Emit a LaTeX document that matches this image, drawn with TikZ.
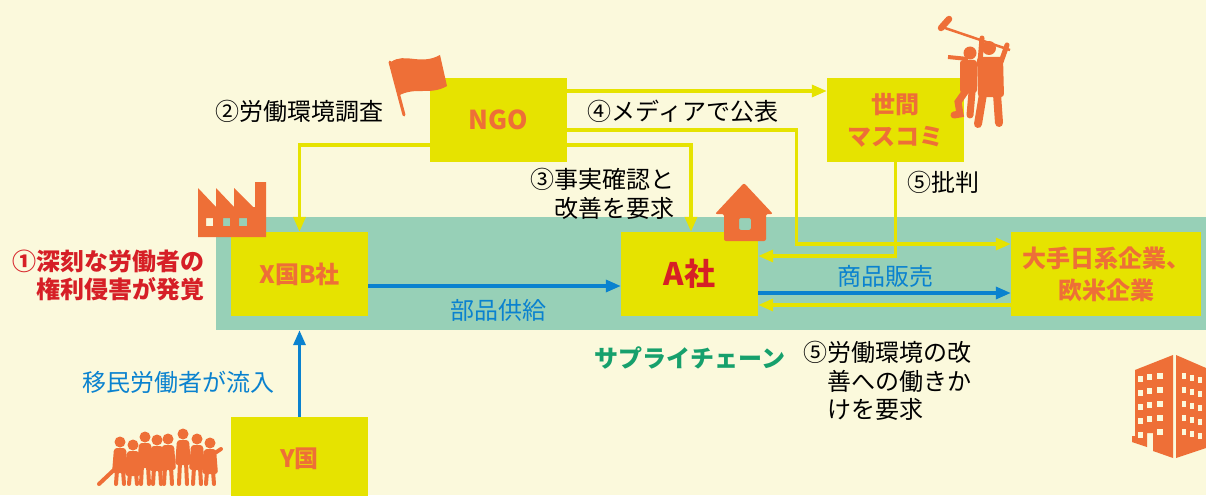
\documentclass[tikz,border=0pt]{standalone}
\usepackage{fontspec}
\setmainfont{Noto Sans CJK JP}
\usepackage{tikz}
\usepackage{xcolor}
\usetikzlibrary{arrows.meta}
\definecolor{cream}{HTML}{FBF9DC}
\definecolor{chain-teal}{HTML}{97D0B7}
\definecolor{box-yellow}{HTML}{E6E300}
\definecolor{icon-orange}{HTML}{EE6F37}
\definecolor{alert-red}{HTML}{D61F26}
\definecolor{flow-blue}{HTML}{0A82CF}
\definecolor{chain-green}{HTML}{16A06C}
\tikzset{
    chain-band/.style = {fill=chain-teal, rectangle, minimum width=990pt, minimum height=113pt, inner sep=0pt},
    actor-box/.style = {fill=box-yellow, rectangle, minimum width=137pt, minimum height=84pt, inner sep=0pt, text=icon-orange, font=\fontsize{24}{32}\selectfont\bfseries, align=center},
    label-text/.style = {inner sep=0pt, font=\fontsize{24}{28.5}\selectfont},
    yellow-flow/.style = {draw=box-yellow, line width=3.3pt, -{Triangle[length=15pt,width=12pt]}},
    blue-flow/.style = {draw=flow-blue, line width=3.3pt, -{Triangle[length=15pt,width=12pt]}},
    icon-fill/.style = {fill=icon-orange},
}
\begin{document}
\begin{tikzpicture}[x=1pt,y=-1pt]
\useasboundingbox (0,0) rectangle (1206,495);
\clip (0,0) rectangle (1206,495);
\fill[cream] (0,0) rectangle (1206,495);
\node[chain-band] (chain) at (711,273.5) {};

\node[actor-box] (xb) at (299.5,274) {X国B社};
\node[actor-box, text=alert-red, font=\fontsize{31}{32}\selectfont\bfseries] (ac) at (689.5,274) {A社};
\node[actor-box, minimum width=190pt] (big) at (1106,274) {大手日系企業、\\欧米企業};
\node[actor-box] (yc) at (299.5,459) {Y国};
\node[actor-box, font=\fontsize{26}{32}\selectfont\bfseries] (ngo) at (498.5,120) {NGO};
\node[actor-box] (media) at (895.5,120) {世間\\マスコミ};

\draw[yellow-flow] ([yshift=-25pt]ngo.west) -| (xb.north);
\draw[yellow-flow] ([yshift=-25pt]ngo.east) -| ([xshift=1.5pt]ac.north);
\draw[yellow-flow] ([yshift=29pt]ngo.east) -- ([yshift=29pt]media.west);
\draw[yellow-flow] ([yshift=-10pt]ngo.east) -| ([xshift=-214pt,yshift=30pt]big.west) -- ([yshift=30pt]big.west);
\draw[yellow-flow] (media.south) |- ([yshift=18pt]ac.east);
\draw[yellow-flow] ([yshift=-31pt]big.west) -- ([yshift=-31pt]ac.east);
\draw[blue-flow] ([yshift=-19pt]ac.east) -- ([yshift=-19pt]big.west);
\draw[blue-flow] ([yshift=-12pt]xb.east) -- ([yshift=-12pt]ac.west);
\draw[blue-flow] (yc.north) -- (yc.north |- chain.south);

\node[label-text] (survey) at (299,111) {②労働環境調査};
\node[label-text] (publish) at (683,111) {④メディアで公表};
\node[label-text, anchor=east, align=right] (demand) at (675,194) {③事実確認と\\改善を要求};
\node[label-text] (critic) at (943,182) {⑤批判};
\node[label-text, anchor=east, align=right, text=alert-red, font=\fontsize{24}{28}\selectfont\bfseries] (abuse) at (205,275) {①深刻な労働者の\\権利侵害が発覚};
\node[label-text, text=flow-blue] (inflow) at (178,382) {移民労働者が流入};
\node[label-text, text=flow-blue] (parts) at (498,310) {部品供給};
\node[label-text, text=flow-blue] (sales) at (885,276) {商品販売};
\node[label-text, text=chain-green, font=\fontsize{24}{28}\selectfont\bfseries] (chain-name) at (690,358) {サプライチェーン};
\node[label-text, anchor=west, align=left] (appeal) at (803,381) {⑤労働環境の改\\\hphantom{⑤}善への働きか\\\hphantom{⑤}けを要求};

\draw[icon-orange, line width=3pt, line cap=round] (404,115) -- (390,62);
\fill[icon-fill] (391,62) .. controls (405,52) and (420,66) .. (440,55) -- (447,86) .. controls (430,96) and (415,86) .. (398,96) -- cycle;

\fill[icon-fill, even odd rule] (198,237) -- (198,188) -- (216,207) -- (216,188) -- (234,207) -- (234,188) -- (253,207) -- (255,207) -- (255,182) -- (266,182) -- (266,237) -- cycle
    (206,218) rectangle (213,226) (223,218) rectangle (230,226) (239,218) rectangle (247,226);

\fill[icon-fill, rounded corners=2pt, even odd rule] (715,214) -- (744,183) -- (773,214) -- (766,214) -- (766,241) -- (724,241) -- (724,214) -- cycle
    (739,218) rectangle (751,230);

\fill[icon-fill] (1132,436) -- (1135,436) -- (1135,370) -- (1173,355) -- (1173,458) -- (1153,451) -- (1153,433) -- (1147,433) -- (1147,447) -- (1132,442) -- cycle;
\fill[icon-fill] (1176,355) -- (1206,368) -- (1206,448) -- (1176,458) -- cycle;
\foreach \wy in {0,1,2,3,4} {
    \fill[cream] (1138,376+\wy*14) rectangle +(5,6);
    \fill[cream] (1157,373+\wy*14) rectangle +(6,6);
    \fill[cream] (1182,373+\wy*14) rectangle +(4,6);
    \fill[cream] (1190,375+\wy*14) rectangle +(4,6);
    \fill[cream] (1198,377+\wy*14) rectangle +(4,6);
}
\foreach \wy in {0,1,2,3} \fill[cream] (1147,374+\wy*14) rectangle +(5,6);

\draw[icon-orange, line width=2.5pt] (942,27) -- (1010,50);
\draw[icon-orange, line width=6.5pt, line cap=round] (941,28) -- (949,19);
\fill[icon-fill] (989,48) circle (7);
\fill[icon-fill, rounded corners=3pt] (977,57) -- (1003,57) -- (1004,97) -- (978,97) -- cycle;
\draw[icon-orange, line width=5pt, line cap=round] (980,62) -- (982,38) (1001,62) -- (1007,45);
\draw[icon-orange, line width=8pt, line cap=round] (983,94) -- (978,124) (997,94) -- (999,123);
\fill[icon-fill] (970,53) circle (6.5);
\draw[icon-orange, line width=4pt] (948,57) -- (968,59);
\fill[icon-fill, rounded corners=3pt] (960,60) rectangle (977,93);
\draw[icon-orange, line width=7pt, line cap=round] (965,92) -- (958,102) -- (960,114) -- (954,115) (972,92) -- (970,115);

\foreach \hx/\hy in {120/442, 133/445, 145/437, 157/440, 168/439, 183/434, 197/439, 210/443} {
    \fill[icon-fill] (\hx,\hy) circle (5.5);
    \fill[icon-fill, rounded corners=3pt] (\hx-6,\hy+6) -- (\hx+6,\hy+6) -- (\hx+8,\hy+31) -- (\hx-8,\hy+31) -- cycle;
    \draw[icon-orange, line width=4pt, line cap=round] (\hx-3,\hy+28) -- (\hx-4,484) (\hx+3,\hy+28) -- (\hx+4,484);
}
\draw[icon-orange, line width=4pt, line cap=round] (116,468) -- (99,484) (215,453) -- (221,449);
\end{tikzpicture}
\end{document}
